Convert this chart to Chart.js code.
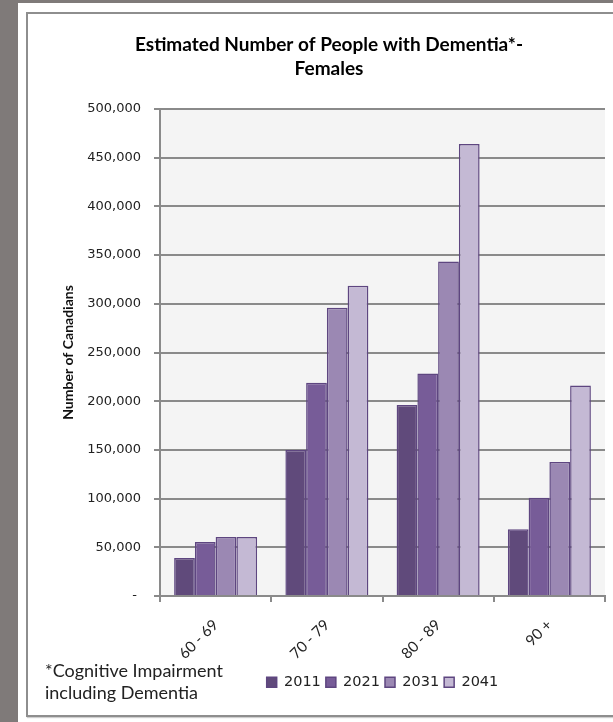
<!DOCTYPE html>
<html>
<head>
<meta charset="utf-8">
<script src="https://cdn.jsdelivr.net/npm/chart.js@4.4.1/dist/chart.umd.min.js"></script>
<style>
  html, body { margin: 0; padding: 0; width: 613px; height: 722px; overflow: hidden; background: #7f7a79; }
  #sheet { position: absolute; left: 18px; top: 3px; width: 595px; height: 719px; background: #fff; }
  #frame { position: absolute; left: 26px; top: 12px; width: 600px; height: 701px;
           border: 2px solid #8e8e8e; border-right: none; box-shadow: 1px 1px 1px #cfcfcf; }
  #chart { position: absolute; left: 0; top: 0; }
  #note { position: absolute; left: 45px; top: 659px; font: 18px Lato, sans-serif; line-height: 22px; color: #222; }
</style>
</head>
<body>
<div id="sheet"></div>
<div id="frame"></div>
<canvas id="chart" width="613" height="722"></canvas>
<div id="note">*Cognitive Impairment<br>including Dementia</div>
<script>
// Age groups and projection years
const ageGroups = ['60 - 69', '70 - 79', '80 - 89', '90 +'];
const years = ['2011', '2021', '2031', '2041'];

// Estimated number of females with dementia, per age group
const females2011 = [39000, 150000, 196000, 68500];
const females2021 = [55500, 219000, 228500, 101000];
const females2031 = [60500, 296000, 343500, 137500];
const females2041 = [60500, 318500, 464000, 216000];

const seriesValues = [females2011, females2021, females2031, females2041];
const fillColors = ['#604a7b', '#775c98', '#9b88b3', '#c4b9d4'];
const edgeColor = '#5e4680';

// light grey backdrop behind the plotting area
const plotBackdrop = {
  id: 'plotBackdrop',
  beforeDraw(chart) {
    const { ctx, chartArea } = chart;
    ctx.save();
    ctx.fillStyle = '#f4f4f4';
    ctx.fillRect(chartArea.left, chartArea.top, chartArea.right - chartArea.left, chartArea.bottom - chartArea.top);
    ctx.restore();
  }
};

const axisGrey = '#8a8a8a';

new Chart(document.getElementById('chart'), {
  type: 'bar',
  data: {
    labels: ageGroups,
    datasets: years.map((y, i) => ({
      label: y,
      data: seriesValues[i],
      backgroundColor: fillColors[i],
      borderColor: edgeColor,
      borderWidth: 1.5,
      barPercentage: 1,
      categoryPercentage: 0.746
    }))
  },
  options: {
    responsive: false,
    animation: false,
    devicePixelRatio: 1,
    layout: { padding: { left: 53, right: 8, top: 13, bottom: 22.5 } },
    plugins: {
      title: {
        display: true,
        text: ['Estimated Number of People with Dementia*-', 'Females'],
        color: '#000',
        font: { family: 'Lato', weight: 'bold', size: 19, lineHeight: 1.25 },
        padding: { top: 20.1, bottom: 28.4 }
      },
      legend: {
        position: 'bottom',
        fullSize: false,
        labels: {
          boxWidth: 10,
          boxHeight: 10,
          padding: 5,
          color: '#222',
          font: { family: 'DejaVu Sans', size: 14.5 }
        }
      },
      tooltip: { enabled: false }
    },
    scales: {
      x: {
        grid: { drawOnChartArea: false, drawTicks: true, tickLength: 6, color: axisGrey, lineWidth: 2 },
        border: { display: true, color: axisGrey, width: 2 },
        ticks: {
          autoSkip: false,
          minRotation: 45,
          maxRotation: 45,
          padding: 14,
          color: '#222',
          font: { family: 'Lato', size: 15 }
        },
        afterFit(scale) { scale.height = 74; }
      },
      y: {
        min: 0,
        max: 500000,
        ticks: {
          stepSize: 50000,
          padding: 13,
          color: '#222',
          font: { family: 'DejaVu Sans', size: 13 },
          callback: (v) => v === 0 ? '- ' : v.toLocaleString('en-US')
        },
        grid: { color: axisGrey, lineWidth: 2, tickLength: 6 },
        border: { display: true, color: axisGrey, width: 2 },
        title: {
          display: true,
          text: 'Number of Canadians',
          color: '#111',
          font: { family: 'Lato', weight: 'bold', size: 14 },
          padding: { top: 6.6, bottom: 0 }
        },
        afterFit(scale) { scale.width = 107; }
      }
    }
  },
  plugins: [plotBackdrop]
});
</script>
</body>
</html>
